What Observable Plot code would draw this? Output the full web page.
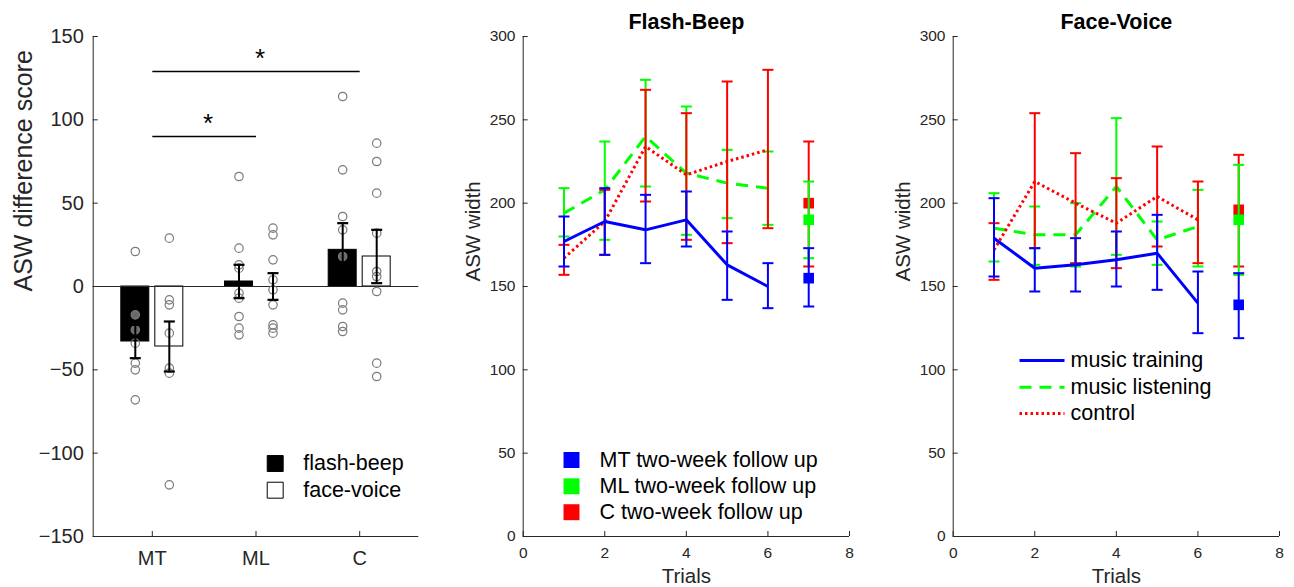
<!DOCTYPE html>
<html>
<head>
<meta charset="utf-8">
<script src="https://cdn.jsdelivr.net/npm/d3@7"></script>
<script src="https://cdn.jsdelivr.net/npm/@observablehq/plot@0.6"></script>
<style>
  body { margin: 0; background: #fff; }
  #wrap { position: relative; width: 1294px; height: 587px; overflow: hidden; background: #fff; }
  #wrap > svg { position: absolute; top: 0; }
</style>
</head>
<body>
<div id="wrap"></div>
<script>
// ---------------- Panel 1 data (ASW difference score) ----------------
const groups = ["MT", "ML", "C"];
const flashBeepMean = [-33, 3, 22];
const flashBeepErr = [10, 10, 16];
const faceVoiceMean = [-36, 0, 18];
const faceVoiceErr = [15, 8, 16];
const flashBeepPoints = [
  [21, -17, -26, -34, -46, -50, -68],
  [66, 23, 13, 11, -4, -7, -18, -25, -29],
  [114, 70, 42, 34, 18, -10, -14, -24, -27]
];
const faceVoicePoints = [
  [29, -8, -11, -28, -49, -52, -119],
  [35, 31, 16, 4, -2, -11, -23, -25, -28],
  [86, 75, 56, 32, 9, 6, -3, -46, -54]
];
const sigBrackets = [
  {from: "MT", to: "C", y: 129, label: "*"},
  {from: "MT", to: "ML", y: 90, label: "*"}
];
const panel1Ticks = [-150, -100, -50, 0, 50, 100, 150];
const panel1Legend = [
  {label: "flash-beep", fill: "black"},
  {label: "face-voice", fill: "white"}
];

// ---------------- Panels 2 & 3 data (ASW width by trial) ----------------
const trials = [1, 2, 3, 4, 5, 6];
const followUpTrial = 7;
const trialTicksX = [0, 2, 4, 6, 8];
const trialTicksY = [0, 50, 100, 150, 200, 250, 300];

// Flash-Beep
const fbMTMean = [177, 189, 184, 190, 163, 150];
const fbMTLo   = [162, 169, 164, 174, 142, 137];
const fbMTHi   = [192, 209, 205, 207, 183, 164];
const fbMTFollow = [155, 138, 173]; // mean, lo, hi
const fbMLMean = [194, 208, 240, 218, 212, 209];
const fbMLLo   = [180, 178, 210, 181, 191, 187];
const fbMLHi   = [209, 237, 274, 258, 232, 231];
const fbMLFollow = [190, 167, 213];
const fbCMean  = [167, 189, 234, 217, 225, 232];
const fbCLo    = [157, 169, 201, 178, 176, 185];
const fbCHi    = [175, 208, 268, 254, 273, 280];
const fbCFollow = [200, 162, 237];

// Face-Voice
const fvMTMean = [179, 161, 163, 166, 170, 140];
const fvMTLo   = [156, 147, 147, 150, 148, 122];
const fvMTHi   = [203, 173, 179, 183, 193, 159];
const fvMTFollow = [139, 119, 158];
const fvMLMean = [185, 181, 181, 210, 178, 186];
const fvMLLo   = [165, 163, 162, 169, 163, 162];
const fvMLHi   = [206, 198, 200, 251, 189, 208];
const fvMLFollow = [190, 157, 223];
const fvCMean  = [172, 213, 200, 188, 204, 190];
const fvCLo    = [154, 173, 164, 161, 174, 164];
const fvCHi    = [188, 254, 230, 215, 234, 213];
const fvCFollow = [196, 162, 229];

const followLegend = ["MT two-week follow up", "ML two-week follow up", "C two-week follow up"];
const lineLegend = ["music training", "music listening", "control"];

// ---------------- styling ----------------
const FONT = '"Liberation Sans", Arial, Helvetica, sans-serif';
const AX = "#262626";
const BLUE = "#0000ff", GREEN = "#00ff00", RED = "#ff0000";
const capSymbol = (w) => ({draw(ctx) { ctx.moveTo(-w / 2, 0); ctx.lineTo(w / 2, 0); }});
const lineSymbol = (w) => ({draw(ctx) { ctx.moveTo(-w / 2, 0); ctx.lineTo(w / 2, 0); }});

const wrap = document.getElementById("wrap");
function place(svg, left) { svg.style.left = left + "px"; wrap.appendChild(svg); }

// ---------------- Panel 1 ----------------
{
  const OFF = 0.164, HALF = 0.135;
  const xDom = [0.43, 3.57];
  const xOf = (g) => groups.indexOf(g) + 1;
  const bars = groups.flatMap((g, i) => [
    {g, cond: "flash-beep", x: i + 1 - OFF, mean: flashBeepMean[i], err: flashBeepErr[i]},
    {g, cond: "face-voice", x: i + 1 + OFF, mean: faceVoiceMean[i], err: faceVoiceErr[i]}
  ]);
  const pts = groups.flatMap((g, i) => [
    ...flashBeepPoints[i].map(v => ({x: i + 1 - OFF, v,
      inside: v * flashBeepMean[i] > 0 && Math.abs(v) < Math.abs(flashBeepMean[i])})),
    ...faceVoicePoints[i].map(v => ({x: i + 1 + OFF, v, inside: false}))
  ]);
  const caps = bars.flatMap(b => [{x: b.x, y: b.mean - b.err}, {x: b.x, y: b.mean + b.err}]);

  const legendMarks = panel1Legend.flatMap((d, i) => [
    Plot.dot([d], {frameAnchor: "top-left", dx: 182, dy: 427 + i * 26.7, symbol: "square", r: 9,
      fill: d.fill, stroke: "black", strokeWidth: 1}),
    Plot.text([d], {frameAnchor: "top-left", dx: 210, dy: 427 + i * 26.7, text: "label",
      textAnchor: "start", lineAnchor: "middle", fontSize: 21.5, fill: "black"})
  ]);

  const p1 = Plot.plot({
    width: 440, height: 587,
    marginLeft: 92.7, marginRight: 21.7, marginTop: 36, marginBottom: 51,
    style: {fontFamily: FONT, fontSize: "20px", color: AX, background: "transparent", overflow: "visible"},
    x: {domain: xDom},
    y: {domain: [-150, 150]},
    marks: [
      Plot.rect(bars.filter(b => b.cond === "flash-beep"), {x1: d => d.x - HALF, x2: d => d.x + HALF, y1: 0, y2: "mean", fill: "black", stroke: "black"}),
      Plot.rect(bars.filter(b => b.cond === "face-voice"), {x1: d => d.x - HALF, x2: d => d.x + HALF, y1: 0, y2: "mean", fill: "white", stroke: "black"}),
      Plot.ruleY([0], {stroke: AX, strokeWidth: 1}),
      Plot.dot(pts, {x: "x", y: "v", r: 4.2, stroke: "#7a7a7a", strokeWidth: 1.2,
        fill: d => d.inside ? "#6a6a6a" : "none"}),
      Plot.ruleX(bars, {x: "x", y1: d => d.mean - d.err, y2: d => d.mean + d.err, stroke: "black", strokeWidth: 2}),
      Plot.dot(caps, {x: "x", y: "y", symbol: capSymbol(11), stroke: "black", strokeWidth: 2.2, fill: "none"}),
      Plot.link(sigBrackets, {x1: d => xOf(d.from), x2: d => xOf(d.to), y1: "y", y2: "y", stroke: "black", strokeWidth: 1.3}),
      Plot.text(sigBrackets, {x: d => (xOf(d.from) + xOf(d.to)) / 2, y: "y", text: "label", fontSize: 26, dx: 4, dy: -13, fill: "black"}),
      Plot.ruleX([xDom[0]], {stroke: AX}),
      Plot.ruleY([-150], {stroke: AX}),
      Plot.axisY({ticks: panel1Ticks, tickSize: -5, tickPadding: 14.4, label: null, fontSize: 20}),
      Plot.axisX({ticks: [1, 2, 3], tickFormat: i => groups[i - 1], tickSize: -5, tickPadding: 19, label: null, fontSize: 20}),
      Plot.text(["ASW difference score"], {frameAnchor: "left", rotate: -90, dx: -79.4, dy: 5, lineAnchor: "top", fontSize: 25, fill: AX}),
      ...legendMarks
    ]
  });
  place(p1, 0);
}

// ---------------- Panels 2 & 3 ----------------
function trialPanel({title, series, followOrder, legendType, left, width, marginRight}) {
  const marks = [];
  for (const s of series) {
    const rows = trials.map((t, i) => ({t, mean: s.mean[i], lo: s.lo[i], hi: s.hi[i]}));
    const caps = rows.flatMap(r => [{t: r.t, y: r.lo}, {t: r.t, y: r.hi}]);
    marks.push(
      Plot.ruleX(rows, {x: "t", y1: "lo", y2: "hi", stroke: s.color, strokeWidth: 2}),
      Plot.dot(caps, {x: "t", y: "y", symbol: capSymbol(11), stroke: s.color, strokeWidth: 2, fill: "none"}),
      Plot.line(rows, {x: "t", y: "mean", stroke: s.color, strokeWidth: 3, strokeDasharray: s.dash, strokeLinecap: "butt"})
    );
  }
  for (const s of followOrder) {
    const f = [{t: followUpTrial, mean: s.follow[0], lo: s.follow[1], hi: s.follow[2]}];
    marks.push(
      Plot.ruleX(f, {x: "t", y1: "lo", y2: "hi", stroke: s.color, strokeWidth: 2}),
      Plot.dot(f.flatMap(r => [{t: r.t, y: r.lo}, {t: r.t, y: r.hi}]), {x: "t", y: "y", symbol: capSymbol(11), stroke: s.color, strokeWidth: 2, fill: "none"}),
      Plot.dot(f, {x: "t", y: "mean", symbol: "square", r: 6, fill: s.color, stroke: "none"})
    );
  }
  const legendSeries = [series.find(s => s.key === "MT"), series.find(s => s.key === "ML"), series.find(s => s.key === "C")];
  if (legendType === "squares") {
    legendSeries.forEach((s, i) => {
      const dy = [423.5, 449.8, 475.7][i];
      marks.push(
        Plot.dot([s], {frameAnchor: "top-left", dx: 48.3, dy, symbol: "square", r: 9, fill: s.color, stroke: "none"}),
        Plot.text([followLegend[i]], {frameAnchor: "top-left", dx: 76.3, dy, text: d => d, textAnchor: "start", lineAnchor: "middle", fontSize: 21.5, fill: "black"})
      );
    });
  } else {
    legendSeries.forEach((s, i) => {
      const dy = [324, 350.7, 377][i];
      marks.push(
        Plot.dot([s], {frameAnchor: "top-left", dx: 88.8, dy, symbol: lineSymbol(45), stroke: s.color, strokeWidth: 3, strokeDasharray: s.dash, fill: "none"}),
        Plot.text([lineLegend[i]], {frameAnchor: "top-left", dx: 117.3, dy, text: d => d, textAnchor: "start", lineAnchor: "middle", fontSize: 21.5, fill: "black"})
      );
    });
  }
  const p = Plot.plot({
    width, height: 587,
    marginLeft: 82.7, marginRight, marginTop: 36, marginBottom: 51,
    style: {fontFamily: FONT, fontSize: "15.5px", color: AX, background: "transparent", overflow: "visible"},
    x: {domain: [0, 8]},
    y: {domain: [0, 300]},
    marks: [
      ...marks,
      Plot.ruleX([0], {stroke: AX}),
      Plot.ruleY([0], {stroke: AX}),
      Plot.axisY({ticks: trialTicksY, tickSize: -5, tickPadding: 12.7, label: null, fontSize: 15.5}),
      Plot.axisX({ticks: trialTicksX, tickSize: -5, tickPadding: 15.7, label: null, fontSize: 15.5}),
      Plot.text([title], {frameAnchor: "top", dy: -22.7, lineAnchor: "top", text: d => d, fontWeight: "bold", fontSize: 21.5, fill: "black"}),
      Plot.text(["Trials"], {frameAnchor: "bottom", dy: 32, lineAnchor: "top", text: d => d, fontSize: 20.5, fill: AX}),
      Plot.text(["ASW width"], {frameAnchor: "left", rotate: -90, dx: -57.7, dy: -5, lineAnchor: "top", text: d => d, fontSize: 20.5, fill: AX})
    ]
  });
  place(p, left);
}

const mk = (key, color, dash, mean, lo, hi, follow) => ({key, color, dash, mean, lo, hi, follow});
{
  const MT = mk("MT", BLUE, null, fbMTMean, fbMTLo, fbMTHi, fbMTFollow);
  const ML = mk("ML", GREEN, "12,8", fbMLMean, fbMLLo, fbMLHi, fbMLFollow);
  const C  = mk("C", RED, "2.5,3", fbCMean, fbCLo, fbCHi, fbCFollow);
  trialPanel({title: "Flash-Beep", series: [ML, C, MT], followOrder: [C, ML, MT], legendType: "squares", left: 440, width: 430, marginRight: 21});
}
{
  const MT = mk("MT", BLUE, null, fvMTMean, fvMTLo, fvMTHi, fvMTFollow);
  const ML = mk("ML", GREEN, "12,8", fvMLMean, fvMLLo, fvMLHi, fvMLFollow);
  const C  = mk("C", RED, "2.5,3", fvCMean, fvCLo, fvCHi, fvCFollow);
  trialPanel({title: "Face-Voice", series: [ML, C, MT], followOrder: [C, ML, MT], legendType: "lines", left: 870, width: 424, marginRight: 15});
}
</script>
</body>
</html>
